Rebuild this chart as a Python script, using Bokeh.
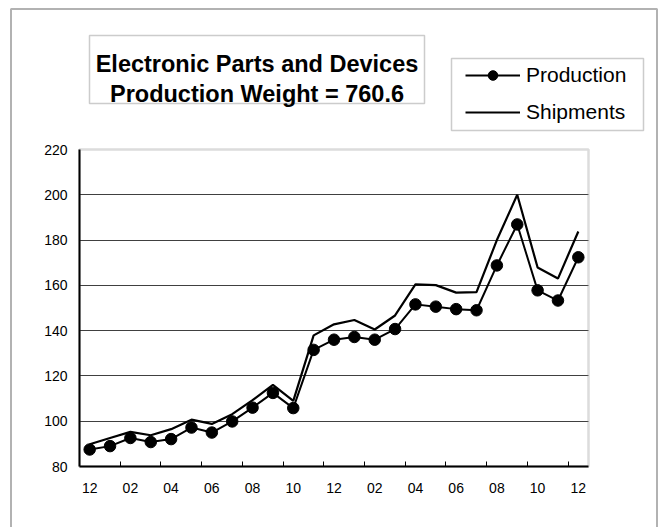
import numpy as np
from bokeh.plotting import figure
from bokeh.models import (Range1d, FixedTicker, BoxAnnotation, Label, Legend, LegendItem)
from bokeh.embed import file_html
from bokeh.resources import INLINE

# ---- data ----
months = ["12", "01", "02", "03", "04", "05", "06", "07", "08", "09", "10", "11",
          "12", "01", "02", "03", "04", "05", "06", "07", "08", "09", "10", "11", "12"]
production = [87.5, 89.0, 92.6, 90.8, 92.1, 97.2, 95.0, 99.9, 106.0, 112.5, 105.8, 131.5,
              136.0, 137.2, 136.0, 140.7, 151.6, 150.6, 149.5, 149.0, 168.8, 186.9, 157.8, 153.3, 172.4]
shipments = [89.8, 92.6, 95.3, 93.8, 96.5, 100.7, 98.8, 103.1, 109.3, 116.0, 109.0, 137.9,
             142.8, 144.7, 140.5, 146.7, 160.4, 160.1, 156.8, 157.0, 180.0, 200.0, 167.9, 163.0, 183.8]
y_ticks = [80, 100, 120, 140, 160, 180, 200, 220]
title_lines = ["Electronic Parts and Devices", "Production Weight = 760.6"]
series_names = ["Production", "Shipments"]

FONT = "Liberation Sans"

# ---- layout (canvas pixels) ----
W, H = 660, 527
PL, PR, PT, PB = 79, 588, 149, 466   # plot-area edges in pixels

n = len(months)
y0, y1 = y_ticks[0], y_ticks[-1]
xs = (PR - PL) / n               # px per category
ys = (PB - PT) / (y1 - y0)       # px per unit
x_range = Range1d(0 - PL / xs, n + (W - PR) / xs)
y_range = Range1d(y0 - (H - PB) / ys, y1 + PT / ys)

x = np.arange(n) + 0.5  # category centres

p = figure(width=W, height=H, output_backend="svg", toolbar_location=None, title=None,
           x_range=x_range, y_range=y_range, min_border=0)
p.background_fill_color = "white"
p.border_fill_color = "white"
p.outline_line_color = None

# x axis: labels every second month at category centres, tick marks at even boundaries
label_pos = [float(v) for v in x[::2]]
xa = p.xaxis[0]
xa.fixed_location = y0
xa.bounds = (0, n)
xa.ticker = FixedTicker(ticks=label_pos, minor_ticks=[float(b) for b in range(2, n, 2)])
xa.major_label_overrides = {pos: months[i * 2] for i, pos in enumerate(label_pos)}
xa.major_tick_line_color = None
xa.major_tick_in = 0
xa.major_tick_out = 0
xa.minor_tick_line_color = "black"
xa.minor_tick_line_width = 1
xa.minor_tick_in = 5
xa.minor_tick_out = 0
xa.axis_line_color = "black"
xa.axis_line_width = 2
xa.major_label_text_font = FONT
xa.major_label_text_font_size = "14px"
xa.major_label_text_color = "black"
xa.major_label_standoff = 16

ya = p.yaxis[0]
ya.fixed_location = 0
ya.bounds = (y0, y1)
ya.ticker = FixedTicker(ticks=y_ticks)
ya.major_tick_in = 0
ya.major_tick_out = 0
ya.minor_tick_line_color = None
ya.axis_line_color = "black"
ya.axis_line_width = 2
ya.major_label_text_font = FONT
ya.major_label_text_font_size = "14px"
ya.major_label_text_color = "black"
ya.major_label_standoff = 12

p.xgrid.visible = False
p.ygrid.ticker = FixedTicker(ticks=y_ticks[1:-1])
p.ygrid.cross_bounds = (0, n)
p.ygrid.grid_line_color = "#404040"
p.ygrid.grid_line_width = 1

# plot-area outline (gray), drawn beneath axes
p.add_layout(BoxAnnotation(left=0, right=n, bottom=y0, top=y1, fill_color=None, fill_alpha=0,
                           line_color="#8c8c8c", line_width=2.5, level="underlay"))

# series
ship = p.line(x, shipments, line_color="black", line_width=2.2)
prod_line = p.line(x, production, line_color="black", line_width=2)
prod_pts = p.scatter(x, production, size=11.5, marker="circle", fill_color="black", line_color="black")

# legend
legend = Legend(items=[LegendItem(label=series_names[0], renderers=[prod_line, prod_pts]),
                       LegendItem(label=series_names[1], renderers=[ship])],
                location=(465, H - 124), orientation="vertical")
legend.border_line_color = None
legend.background_fill_alpha = 0
legend.padding = 0
legend.margin = 0
legend.spacing = 13
legend.glyph_width = 55
legend.glyph_height = 24
legend.label_height = 24
legend.label_standoff = 6
legend.label_text_font = FONT
legend.label_text_font_size = "21px"
legend.label_text_color = "black"
p.add_layout(legend, "center")

# boxes (outer frame, title box, legend box)
def canvas_box(l, r, t, b, color, width):
    return BoxAnnotation(left=l, right=r, top=t, bottom=b,
                         left_units="canvas", right_units="canvas",
                         top_units="canvas", bottom_units="canvas",
                         fill_alpha=0, fill_color=None, line_color=color, line_width=width)

p.add_layout(canvas_box(10.5, 656.5, 8.5, H + 20, "black", 2))
p.add_layout(canvas_box(89, 424, 35, 103, "#555555", 1.5))
p.add_layout(canvas_box(451, 643, 58, 130, "#555555", 1.5))

for txt, yb in zip(title_lines, [63, 93]):
    p.add_layout(Label(x=256.5, y=yb, x_units="canvas", y_units="canvas", text=txt,
                       text_align="center", text_baseline="alphabetic", text_font=FONT,
                       text_font_style="bold", text_font_size="23.5px", text_color="black"))

open("out.html", "w").write(file_html(p, INLINE))
